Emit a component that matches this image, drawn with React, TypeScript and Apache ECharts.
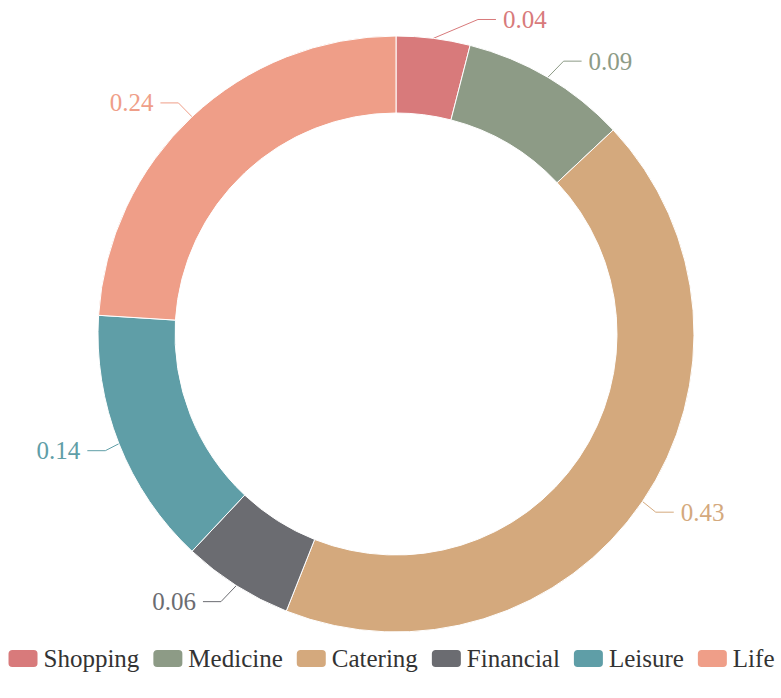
import React, { useEffect, useRef } from "react";
import * as echarts from "echarts";

const categories = ["Shopping", "Medicine", "Catering", "Financial", "Leisure", "Life"];
const values = [0.04, 0.09, 0.43, 0.06, 0.14, 0.24];
const colors = ["#d87a7b", "#8d9b86", "#d4a97d", "#6b6c71", "#5f9ea7", "#ef9e88"];

const FONT = "'Liberation Serif', 'Times New Roman', serif";
const CX = 396;
const CY = 334;
const R_OUT = 298;
const R_IN = 221;
const R_BEND = 317;
const R_END = 330;
const LEN2 = 18;
const TEXT_GAP = 7;

export default function App() {
  const ref = useRef<HTMLDivElement>(null);
  useEffect(() => {
    document.body.style.margin = "0";
    const chart = echarts.init(ref.current!, undefined, { renderer: "svg" });
    const total = values.reduce((a, b) => a + b, 0);
    const cum: number[] = [];
    values.reduce((acc, v, i) => {
      cum[i] = acc;
      return acc + v;
    }, 0);
    chart.setOption({
      animation: false,
      color: colors,
      textStyle: { fontFamily: FONT },
      legend: {
        top: 641,
        left: "center",
        itemWidth: 31,
        itemHeight: 19,
        itemGap: 12,
        icon: "roundRect",
        textStyle: { fontFamily: FONT, fontSize: 25, color: "#333" },
        data: categories,
      },
      series: [
        {
          type: "pie",
          center: [CX, CY],
          radius: [R_IN, R_OUT],
          startAngle: 90,
          clockwise: true,
          itemStyle: { borderColor: "#fff", borderWidth: 1 },
          label: {
            show: true,
            formatter: "{c}",
            fontFamily: FONT,
            fontSize: 25,
          },
          labelLine: { show: true, length: 18, length2: 18, lineStyle: { width: 1 } },
          labelLayout: (params: any) => {
            const i = params.dataIndex;
            const theta = (2 * Math.PI * (cum[i] + values[i] / 2)) / total;
            const sx = Math.sin(theta);
            const sy = -Math.cos(theta);
            const dir = sx >= 0 ? 1 : -1;
            const x0 = CX + R_OUT * sx;
            const y0 = CY + R_OUT * sy;
            const ly = CY + R_BEND * sy;
            const dy = ly - CY;
            const ex = CX + dir * Math.sqrt(R_END * R_END - dy * dy);
            const bx = ex - dir * LEN2;
            return {
              x: ex + dir * TEXT_GAP,
              y: ly,
              align: dir > 0 ? "left" : "right",
              verticalAlign: "middle",
              labelLinePoints: [
                [x0, y0],
                [bx, ly],
                [ex, ly],
              ],
            };
          },
          data: categories.map((name, i) => ({
            name,
            value: values[i],
            label: { color: colors[i] },
          })),
        },
      ],
    });
    return () => chart.dispose();
  }, []);
  return <div ref={ref} style={{ width: 781, height: 698 }} />;
}
